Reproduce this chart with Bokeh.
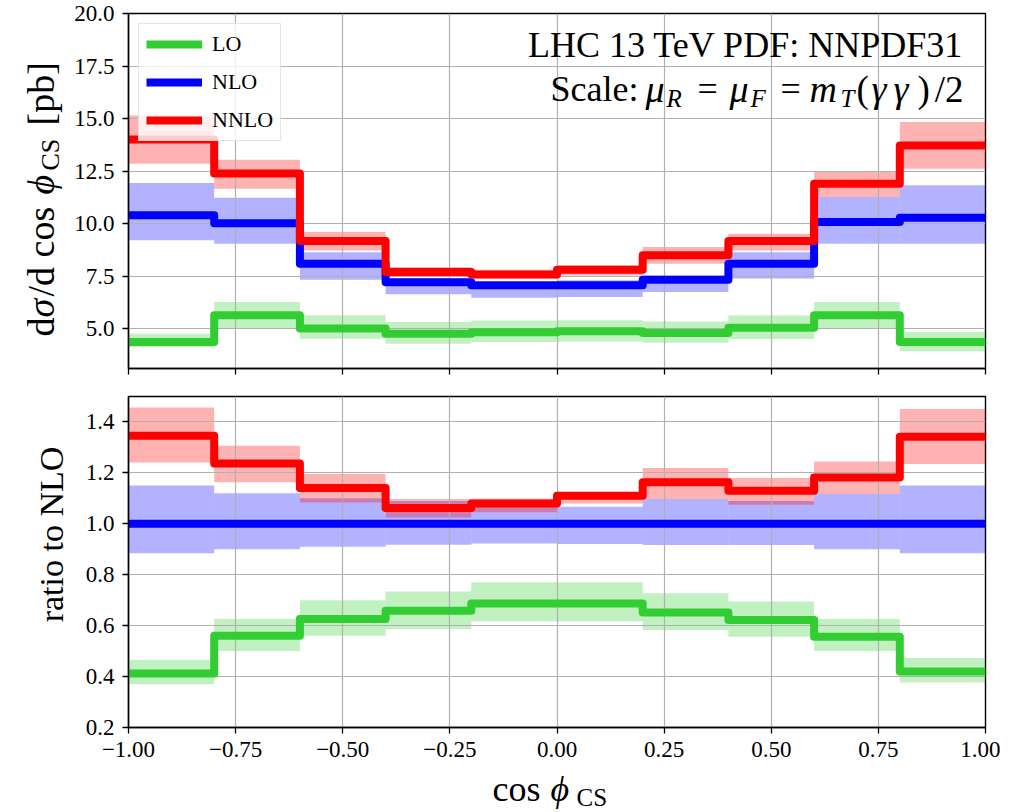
import math
from bokeh.plotting import figure
from bokeh.models import Range1d, FixedTicker, Label, Legend, LegendItem
from bokeh.layouts import column, row
from bokeh.embed import file_html
from bokeh.resources import INLINE

# ---------------- data ----------------
bin_edges = [-1.0, -0.8, -0.6, -0.4, -0.2, 0.0, 0.2, 0.4, 0.6, 0.8, 1.0]

lo_xs = [4.36, 5.63, 5.00, 4.76, 4.83, 4.87, 4.79, 5.04, 5.63, 4.36]
lo_xs_low = [4.12, 5.00, 4.52, 4.28, 4.36, 4.38, 4.32, 4.50, 5.00, 3.92]
lo_xs_high = [4.76, 6.26, 5.63, 5.31, 5.39, 5.40, 5.34, 5.62, 6.26, 4.84]

nlo_xs = [10.39, 10.02, 8.09, 7.21, 7.06, 7.06, 7.33, 8.09, 10.07, 10.28]
nlo_xs_low = [9.20, 9.04, 7.33, 6.63, 6.47, 6.50, 6.74, 7.38, 9.04, 9.04]
nlo_xs_high = [11.93, 11.23, 8.64, 7.38, 7.21, 7.30, 7.53, 8.64, 11.26, 11.82]

nnlo_xs = [14.00, 12.38, 9.17, 7.69, 7.58, 7.80, 8.49, 9.17, 11.90, 13.72]
nnlo_xs_low = [12.85, 11.66, 8.72, 7.45, 7.38, 7.53, 8.09, 8.72, 11.26, 12.61]
nnlo_xs_high = [15.15, 13.04, 9.60, 7.93, 7.80, 8.01, 8.88, 9.52, 12.45, 14.83]

lo_ratio = [0.412, 0.560, 0.626, 0.659, 0.687, 0.687, 0.652, 0.622, 0.556, 0.420]
lo_ratio_low = [0.370, 0.500, 0.560, 0.587, 0.617, 0.617, 0.583, 0.556, 0.500, 0.377]
lo_ratio_high = [0.465, 0.626, 0.700, 0.734, 0.770, 0.770, 0.727, 0.695, 0.626, 0.473]

nlo_ratio = [1.0, 1.0, 1.0, 1.0, 1.0, 1.0, 1.0, 1.0, 1.0, 1.0]
nlo_ratio_low = [0.884, 0.900, 0.910, 0.918, 0.923, 0.921, 0.917, 0.917, 0.900, 0.884]
nlo_ratio_high = [1.150, 1.120, 1.100, 1.090, 1.084, 1.067, 1.097, 1.090, 1.117, 1.150]

nnlo_ratio = [1.346, 1.237, 1.141, 1.062, 1.080, 1.110, 1.163, 1.130, 1.182, 1.342]
nnlo_ratio_low = [1.241, 1.163, 1.084, 1.025, 1.045, 1.080, 1.097, 1.075, 1.117, 1.235]
nnlo_ratio_high = [1.457, 1.307, 1.196, 1.097, 1.099, 1.120, 1.219, 1.180, 1.245, 1.451]

series_names = ["LO", "NLO", "NNLO"]
series_colors = ["#32cd32", "#0000ff", "#ff0000"]

x_ticks = [-1.0, -0.75, -0.5, -0.25, 0.0, 0.25, 0.5, 0.75, 1.0]
x_tick_labels = ["\u22121.00", "\u22120.75", "\u22120.50", "\u22120.25", "0.00", "0.25", "0.50", "0.75", "1.00"]
top_y_ticks = [5.0, 7.5, 10.0, 12.5, 15.0, 17.5, 20.0]
top_y_tick_labels = ["5.0", "7.5", "10.0", "12.5", "15.0", "17.5", "20.0"]
ratio_y_ticks = [0.2, 0.4, 0.6, 0.8, 1.0, 1.2, 1.4]
ratio_y_tick_labels = ["0.2", "0.4", "0.6", "0.8", "1.0", "1.2", "1.4"]

# ---------------- layout constants (page pixels) ----------------
FONT = "Liberation Serif"
PAGE_W, PAGE_H = 1000, 810
LEFT_W = 70                      # strip holding the rotated y labels
W = PAGE_W - LEFT_W
FRAME_L = 128
L_B, R_B = FRAME_L - LEFT_W, 15
FRAME_W = PAGE_W - FRAME_L - R_B
TOP_H, TOP_T, TOP_FRAME_H = 382, 13, 355
XLAB_H = 40
BOT_H, BOT_T, BOT_FRAME_H = PAGE_H - TOP_H - XLAB_H, 14, 331
TOP_Y = (3.1, 20.0)
BOT_Y = (0.2, 1.5)
half_pi = math.pi / 2
BASE_FIX = 0.31                  # renderer places alphabetic baselines ~0.31 em low
TICK_FS = "23px"

x_range = Range1d(-1.0, 1.0)


def style(p, yticks, ylabels, show_xlabels):
    p.outline_line_color = "black"
    p.outline_line_width = 1.4
    p.xaxis.ticker = FixedTicker(ticks=x_ticks)
    p.yaxis.ticker = FixedTicker(ticks=yticks)
    p.xgrid.ticker = FixedTicker(ticks=x_ticks)
    p.ygrid.ticker = FixedTicker(ticks=yticks)
    p.yaxis.major_label_overrides = dict(zip(yticks, ylabels))
    if show_xlabels:
        p.xaxis.major_label_overrides = dict(zip(x_ticks, x_tick_labels))
        p.xaxis.major_label_text_font_size = TICK_FS
        p.xaxis.major_label_standoff = 8
    else:
        p.xaxis.major_label_overrides = {t: "" for t in x_ticks}
        p.xaxis.major_label_text_font_size = "1px"
        p.xaxis.major_label_standoff = 0
    for ax in (p.xaxis, p.yaxis):
        ax.axis_line_color = "black"
        ax.axis_line_width = 1.4
        ax.major_tick_line_color = "black"
        ax.major_tick_line_width = 1.3
        ax.major_tick_out = 6
        ax.major_tick_in = 0
        ax.minor_tick_line_color = None
        ax.major_label_text_font = FONT
        ax.major_label_text_color = "black"
    p.yaxis.major_label_text_font_size = TICK_FS
    p.yaxis.major_label_standoff = 8
    for g in (p.xgrid, p.ygrid):
        g.grid_line_color = "#b0b0b0"
        g.grid_line_width = 1.2


def draw(p, centers, lows, highs):
    rends = []
    for lo, hi, col in zip(lows, highs, series_colors):
        band = p.quad(left=bin_edges[:-1], right=bin_edges[1:], bottom=lo, top=hi,
                      fill_color=col, fill_alpha=0.3, line_color=None)
        band.level = "image"
    for vals, col in zip(centers, series_colors):
        r = p.step(x=bin_edges, y=list(vals) + [vals[-1]], mode="after",
                   line_color=col, line_width=8, line_join="round")
        rends.append(r)
    return rends


def blank_fig(w, h, xr, yr, left=0, right=0):
    f = figure(width=w, height=h, x_range=xr, y_range=yr, output_backend="svg",
               toolbar_location=None, x_axis_type=None, y_axis_type=None, title=None,
               min_border=0, min_border_left=left, min_border_right=right,
               min_border_top=0, min_border_bottom=0)
    f.outline_line_color = None
    f.grid.visible = False
    return f


def tx(px):
    return -1.0 + (px - FRAME_L) / FRAME_W * 2.0


def ty(py):
    return TOP_Y[1] - (py - TOP_T) / TOP_FRAME_H * (TOP_Y[1] - TOP_Y[0])


def ident(v):
    return v


def add_text(p, fx, fy, px, py, text, size, align="left", italic=False, rotated=False):
    # px, py: wanted baseline anchor in page pixels
    if rotated:
        px = px - BASE_FIX * size
    else:
        py = py - BASE_FIX * size
    p.add_layout(Label(x=fx(px), y=fy(py), text=text, text_font=FONT,
                       text_font_size=f"{size}px", text_align=align,
                       text_baseline="alphabetic", angle=half_pi if rotated else 0.0,
                       text_font_style="italic" if italic else "normal",
                       text_color="black"))


# ---------------- top panel ----------------
p1 = figure(width=W, height=TOP_H, x_range=x_range, y_range=Range1d(*TOP_Y),
            output_backend="svg", toolbar_location=None,
            min_border_left=L_B, min_border_right=R_B,
            min_border_top=TOP_T, min_border_bottom=TOP_H - TOP_T - TOP_FRAME_H)
style(p1, top_y_ticks, top_y_tick_labels, False)
r_top = draw(p1, [lo_xs, nlo_xs, nnlo_xs], [lo_xs_low, nlo_xs_low, nnlo_xs_low],
             [lo_xs_high, nlo_xs_high, nnlo_xs_high])

legend = Legend(items=[LegendItem(label=n, renderers=[r]) for n, r in zip(series_names, r_top)],
                location="top_left", margin=10, padding=7, spacing=12,
                glyph_width=56, glyph_height=22, label_height=22, label_standoff=10,
                label_text_font=FONT, label_text_font_size="22px", label_text_color="black",
                border_line_color="#cccccc", border_line_width=1,
                background_fill_color="white", background_fill_alpha=0.8)
p1.add_layout(legend)

# annotation text in the top panel
add_text(p1, tx, ty, 963, 56, "LHC 13 TeV PDF: NNPDF31", 36, align="right")
add_text(p1, tx, ty, 550, 100, "Scale:", 36)
add_text(p1, tx, ty, 645, 100, "\u03bc", 38, italic=True)
add_text(p1, tx, ty, 666, 106, "R", 25, italic=True)
add_text(p1, tx, ty, 697, 100, "=", 36)
add_text(p1, tx, ty, 729, 100, "\u03bc", 38, italic=True)
add_text(p1, tx, ty, 750, 106, "F", 25, italic=True)
add_text(p1, tx, ty, 780, 100, "=", 36)
add_text(p1, tx, ty, 809, 100, "m", 38, italic=True)
add_text(p1, tx, ty, 840, 106, "T", 25, italic=True)
add_text(p1, tx, ty, 856, 100, "(", 37)
add_text(p1, tx, ty, 871, 100, "\u03b3", 38, italic=True)
add_text(p1, tx, ty, 893, 100, "\u03b3", 38, italic=True)
add_text(p1, tx, ty, 917, 100, ")", 37)
add_text(p1, tx, ty, 963, 100, "/2", 37, align="right")

# ---------------- bottom panel ----------------
p2 = figure(width=W, height=BOT_H, x_range=x_range, y_range=Range1d(*BOT_Y),
            output_backend="svg", toolbar_location=None,
            min_border_left=L_B, min_border_right=R_B,
            min_border_top=BOT_T, min_border_bottom=BOT_H - BOT_T - BOT_FRAME_H)
style(p2, ratio_y_ticks, ratio_y_tick_labels, True)
draw(p2, [lo_ratio, nlo_ratio, nnlo_ratio], [lo_ratio_low, nlo_ratio_low, nnlo_ratio_low],
     [lo_ratio_high, nlo_ratio_high, nnlo_ratio_high])

# ---------------- label strips ----------------
ylab_fig = blank_fig(LEFT_W, PAGE_H, Range1d(0, LEFT_W), Range1d(PAGE_H, 0))
add_text(ylab_fig, ident, ident, 52, 336, "d", 38, rotated=True)
add_text(ylab_fig, ident, ident, 52, 317, "\u03c3", 38, italic=True, rotated=True)
add_text(ylab_fig, ident, ident, 52, 296, "/d cos", 38, rotated=True)
add_text(ylab_fig, ident, ident, 52, 194, "\u03d5", 38, italic=True, rotated=True)
add_text(ylab_fig, ident, ident, 58, 170, "CS", 26, rotated=True)
add_text(ylab_fig, ident, ident, 52, 125, "[pb]", 38, rotated=True)
add_text(ylab_fig, ident, ident, 62, 534, "ratio to NLO", 34, align="center", rotated=True)

xlab_fig = blank_fig(W, XLAB_H, x_range, Range1d(PAGE_H, PAGE_H - XLAB_H), left=L_B, right=R_B)
add_text(xlab_fig, tx, ident, 492, 800, "cos", 36)
add_text(xlab_fig, tx, ident, 550, 800, "\u03d5", 36, italic=True)
add_text(xlab_fig, tx, ident, 576, 805, "CS", 25)

layout = row(ylab_fig, column(p1, p2, xlab_fig, spacing=0), spacing=0)
open("out.html", "w").write(file_html(layout, INLINE))
